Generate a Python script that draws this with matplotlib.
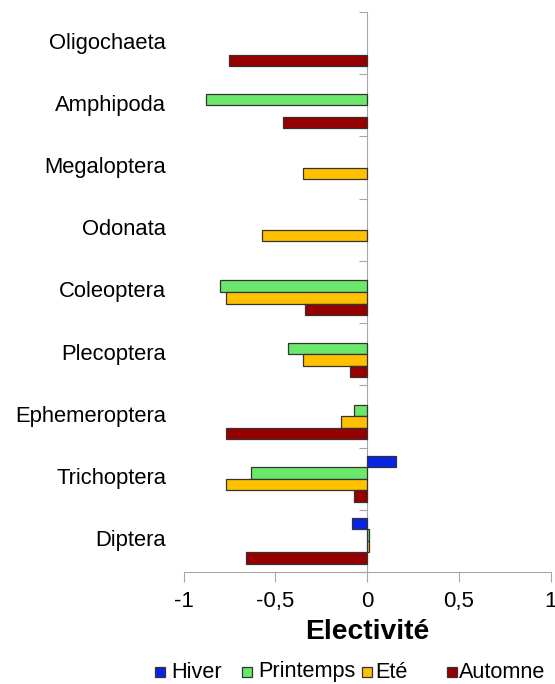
import numpy as np
import matplotlib
matplotlib.use('Agg')
import matplotlib.pyplot as plt
from matplotlib.patches import Rectangle

# ----------------------------------- DATA ----------------------------------- #

categories = ['Oligochaeta', 'Amphipoda', 'Megaloptera', 'Odonata', 'Coleoptera',
              'Plecoptera', 'Ephemeroptera', 'Trichoptera', 'Diptera']

# nan = no bar for that season
hiver = [np.nan, np.nan, np.nan, np.nan, np.nan, np.nan, np.nan, 0.16, -0.08]
printemps = [np.nan, -0.88, np.nan, np.nan, -0.80, -0.43, -0.07, -0.63, 0.01]
ete = [np.nan, np.nan, -0.35, -0.57, -0.77, -0.35, -0.14, -0.77, 0.01]
automne = [-0.75, -0.46, np.nan, np.nan, -0.34, -0.09, -0.77, -0.07, -0.66]

series_names = ['Hiver', 'Printemps', 'Eté', 'Automne']
colors = ['#0A24E6', '#6BE86B', '#FFC000', '#960000']

x_ticks = [-1, -0.5, 0, 0.5, 1]
x_ticklabels = ['-1', '-0,5', '0', '0,5', '1']

# ----------------------------------- PLOT ----------------------------------- #

plt.rcParams['font.family'] = ['Liberation Sans', 'DejaVu Sans']

W, H = 555, 684
fig = plt.figure(figsize=(W / 100, H / 100), dpi=100)
ax = fig.add_axes([183.5 / W, 112 / H, 367 / W, 560 / H])

y = np.arange(len(categories))
h = 0.185
offsets = [-1.5 * h, -0.5 * h, 0.5 * h, 1.5 * h]

for vals, off, col, name in zip([hiver, printemps, ete, automne], offsets, colors, series_names):
    vals = np.array(vals, dtype=float)
    mask = ~np.isnan(vals)
    ax.barh(y[mask] + off, vals[mask], height=h, color=col, edgecolor='#333333',
            linewidth=0.9, label=name)

ax.set_xlim(-1, 1)
ax.set_ylim(len(categories) - 0.5, -0.5)

# axes look: vertical axis at zero, gray lines
ax.spines['left'].set_position(('data', 0))
ax.spines['top'].set_visible(False)
ax.spines['right'].set_visible(False)
ax.spines['left'].set_color('#A6A6A6')
ax.spines['bottom'].set_color('#A6A6A6')
ax.spines['left'].set_zorder(0.5)

ax.set_xticks(x_ticks)
ax.set_xticklabels(x_ticklabels, fontsize=16)
ax.tick_params(axis='x', direction='out', length=7, color='#A6A6A6', pad=7)

ax.set_yticks(np.arange(-0.5, len(categories), 1.0))
ax.set_yticklabels([])
ax.tick_params(axis='y', direction='out', length=6, color='#A6A6A6')

# category names on the left
for yi, name in zip(y, categories):
    ax.text(-1.095, yi, name, ha='right', va='center', fontsize=15.8, clip_on=False)

ax.set_xlabel('Electivité', fontsize=20.3, fontweight='bold', labelpad=5)

# legend drawn by hand (Excel-like uneven spacing)
legend_x = [155, 242, 362, 447]   # square left edge, px
text_x = [171, 258, 375, 459]     # text left edge, px
legend_y = 672
sq = 10
for lx, tx, col, name in zip(legend_x, text_x, colors, series_names):
    fig.add_artist(Rectangle((lx / W, (H - legend_y - sq / 2) / H), sq / W, sq / H,
                             facecolor=col, edgecolor='#333333', linewidth=0.9,
                             transform=fig.transFigure))
    fig.text(tx / W, (H - legend_y) / H, name, ha='left', va='center', fontsize=15.6)

fig.savefig('out.png', dpi=100)
